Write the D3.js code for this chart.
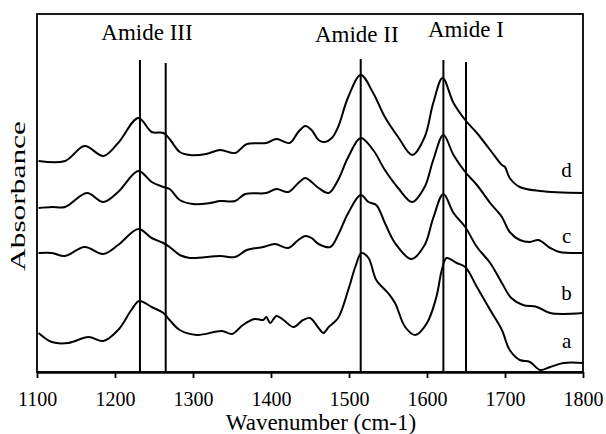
<!DOCTYPE html>
<html>
<head>
<meta charset="utf-8">
<script src="https://cdn.jsdelivr.net/npm/d3@7/dist/d3.min.js"></script>
<style>
  html, body { margin: 0; padding: 0; background: #fff; }
  svg { display: block; }
  text { font-family: "Liberation Serif", "Times New Roman", serif; fill: #000; }
</style>
</head>
<body>
<svg id="chart" width="606" height="434"></svg>
<script>
// ---- Data ----
const xTicks = [1100, 1200, 1300, 1400, 1500, 1600, 1700, 1800];
const seriesLabels = ["a", "b", "c", "d"];

const waveA = [1102,1119,1140,1166,1185,1204,1221,1231,1247,1262,1270,1283,1305,1337,1350,1364,1379,1390,1394,1399,1407,1416,1429,1441,1450,1461,1467,1474,1486,1499,1508,1516,1525,1535,1550,1559,1572,1585,1600,1612,1619,1625,1638,1649,1664,1681,1696,1706,1719,1732,1745,1758,1775,1800];
const absA  = [0.39,0.30,0.29,0.35,0.31,0.42,0.62,0.71,0.65,0.59,0.52,0.42,0.37,0.41,0.38,0.47,0.53,0.52,0.55,0.49,0.56,0.52,0.45,0.52,0.54,0.44,0.39,0.45,0.54,0.82,1.05,1.19,1.14,0.92,0.79,0.69,0.45,0.37,0.49,0.75,1.02,1.14,1.09,1.05,0.85,0.62,0.42,0.22,0.12,0.10,0.02,0.05,0.09,0.09];

const waveB = [1102,1119,1136,1161,1185,1204,1230,1247,1262,1270,1283,1296,1335,1354,1369,1390,1405,1422,1435,1444,1452,1461,1476,1486,1499,1515,1525,1535,1546,1559,1580,1597,1608,1621,1634,1649,1664,1681,1696,1708,1723,1741,1758,1800];
const absB  = [1.19,1.19,1.16,1.25,1.18,1.27,1.43,1.34,1.29,1.25,1.17,1.14,1.16,1.15,1.22,1.25,1.28,1.24,1.32,1.36,1.34,1.28,1.25,1.37,1.59,1.77,1.70,1.67,1.49,1.29,1.13,1.27,1.54,1.78,1.59,1.45,1.25,1.09,0.89,0.74,0.67,0.65,0.59,0.59];

const waveC = [1102,1119,1136,1164,1185,1204,1230,1247,1262,1270,1283,1300,1322,1335,1354,1367,1394,1407,1422,1435,1444,1452,1461,1474,1486,1499,1515,1531,1546,1563,1581,1597,1608,1621,1634,1649,1664,1681,1696,1706,1719,1732,1743,1758,1770,1800];
const absC  = [1.64,1.65,1.65,1.79,1.70,1.80,2.01,1.90,1.85,1.83,1.72,1.68,1.69,1.71,1.71,1.78,1.79,1.83,1.80,1.89,1.94,1.90,1.84,1.79,1.92,2.15,2.34,2.22,2.02,1.84,1.70,1.85,2.12,2.37,2.17,2.00,1.87,1.69,1.55,1.40,1.32,1.30,1.32,1.24,1.20,1.19];

const waveD = [1102,1136,1161,1185,1204,1230,1247,1262,1270,1283,1296,1317,1335,1354,1369,1394,1407,1424,1435,1444,1452,1461,1469,1478,1486,1499,1515,1531,1546,1563,1581,1597,1608,1620,1634,1649,1664,1681,1696,1700,1706,1719,1745,1800];
const absD  = [2.11,2.11,2.26,2.16,2.29,2.54,2.40,2.39,2.33,2.20,2.17,2.18,2.22,2.19,2.28,2.29,2.33,2.29,2.40,2.46,2.42,2.32,2.30,2.34,2.45,2.75,2.97,2.79,2.55,2.35,2.17,2.35,2.69,2.94,2.69,2.52,2.39,2.22,2.07,2.05,1.94,1.85,1.81,1.79];

// marker lines (wavenumber, top absorbance)
const markerWaves = [1232, 1265, 1515, 1621, 1650];
const markerTops  = [3.12, 3.09, 3.13, 3.12, 3.10];

// band annotations
const bandNames = ["Amide III", "Amide II", "Amide I"];
const bandWaves = [1241, 1510, 1650];
const bandLevels = [3.32, 3.30, 3.35];

// curve-end label positions
const labelWave = 1779;
const labelLevels = [0.24, 0.72, 1.29, 1.95];

// ---- Drawing ----
const svg = d3.select("#chart");
const mLeft = 37, mRight = 583, mTop = 14, mBottom = 372;
const x = d3.scaleLinear().domain([1100, 1800]).range([mLeft, mRight]);
const y = d3.scaleLinear().domain([0, 3.58]).range([mBottom, mTop]);

const seriesWaves = [waveA, waveB, waveC, waveD];
const seriesAbs = [absA, absB, absC, absD];

const line = d3.line()
  .x(d => x(d[0]))
  .y(d => y(d[1]))
  .curve(d3.curveCatmullRom.alpha(0.5));

// frame
svg.append("rect")
  .attr("x", mLeft).attr("y", mTop)
  .attr("width", mRight - mLeft).attr("height", mBottom - mTop)
  .attr("fill", "none").attr("stroke", "#000").attr("stroke-width", 1.8);

// curves
seriesWaves.forEach((w, i) => {
  const pts = w.map((v, j) => [v, seriesAbs[i][j]]);
  svg.append("path")
    .datum(pts)
    .attr("d", line)
    .attr("fill", "none")
    .attr("stroke", "#000")
    .attr("stroke-width", 2)
    .attr("stroke-linejoin", "round");
});

// marker lines
svg.selectAll("line.marker")
  .data(markerWaves)
  .join("line")
  .attr("class", "marker")
  .attr("x1", d => x(d)).attr("x2", d => x(d))
  .attr("y1", (d, i) => y(markerTops[i]))
  .attr("y2", y(0))
  .attr("stroke", "#000").attr("stroke-width", 2);

// band labels
svg.selectAll("text.band")
  .data(bandNames)
  .join("text")
  .attr("class", "band")
  .attr("x", (d, i) => x(bandWaves[i]))
  .attr("y", (d, i) => y(bandLevels[i]))
  .attr("text-anchor", "middle")
  .style("font-size", "23px")
  .text(d => d);

// series labels
svg.selectAll("text.slabel")
  .data(seriesLabels)
  .join("text")
  .attr("class", "slabel")
  .attr("x", x(labelWave))
  .attr("y", (d, i) => y(labelLevels[i]))
  .attr("text-anchor", "middle")
  .style("font-size", "21px")
  .text(d => d);

// x axis
const xAxis = d3.axisBottom(x).tickValues(xTicks).tickSize(6).tickSizeOuter(0).tickFormat(d3.format("d"));
const gx = svg.append("g").attr("transform", `translate(0,${mBottom})`).call(xAxis);
gx.attr("font-family", '"Liberation Serif", serif');
gx.select(".domain").attr("stroke", "#000").attr("stroke-width", 2.6);
gx.selectAll(".tick line").attr("stroke", "#000").attr("stroke-width", 1.8);
gx.selectAll(".tick text")
  .attr("y", 34).attr("dy", null)
  .style("font-size", "20px")
  .style("font-family", '"Liberation Serif", serif')
  .attr("fill", "#000");

// axis titles
svg.append("text")
  .attr("x", (mLeft + mRight) / 2 + 11).attr("y", 430)
  .attr("text-anchor", "middle")
  .style("font-size", "23px")
  .text("Wavenumber (cm-1)");

svg.append("text")
  .attr("transform", "translate(25,196) rotate(-90)")
  .attr("text-anchor", "middle")
  .attr("textLength", 150)
  .attr("lengthAdjust", "spacingAndGlyphs")
  .style("font-size", "22px")
  .text("Absorbance");
</script>
</body>
</html>
